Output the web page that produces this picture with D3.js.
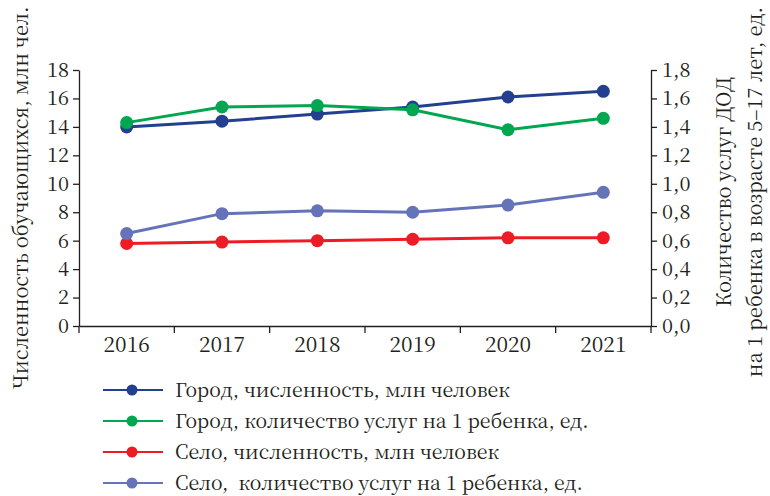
<!DOCTYPE html>
<html>
<head>
<meta charset="utf-8">
<script src="https://cdn.jsdelivr.net/npm/d3@7"></script>
<style>
  body { margin: 0; background: #fff; }
  svg text { font-family: "Noto Serif CJK SC", "DejaVu Serif Condensed", "DejaVu Serif", serif; fill: #231f20; }
</style>
</head>
<body>
<div id="chart"></div>
<script>
// data
const years = ["2016", "2017", "2018", "2019", "2020", "2021"];
const cityPeople = [14.0, 14.4, 14.9, 15.4, 16.1, 16.5];      // left axis
const cityServices = [1.43, 1.54, 1.55, 1.52, 1.38, 1.46];    // right axis
const villagePeople = [5.8, 5.9, 6.0, 6.1, 6.2, 6.2];         // left axis
const villageServices = [0.65, 0.79, 0.81, 0.80, 0.85, 0.94]; // right axis
const leftTicks = [0, 2, 4, 6, 8, 10, 12, 14, 16, 18];
const rightTicks = [0, 0.2, 0.4, 0.6, 0.8, 1.0, 1.2, 1.4, 1.6, 1.8];

const series = [
    { name: "Город, численность, млн человек", values: cityPeople, axis: "left", color: "#233f8f" },
    { name: "Город, количество услуг на 1 ребенка, ед.", values: cityServices, axis: "right", color: "#00a650" },
    { name: "Село, численность, млн человек", values: villagePeople, axis: "left", color: "#ed1c24" },
    { name: "Село,  количество услуг на 1 ребенка, ед.", values: villageServices, axis: "right", color: "#6573b8" }
];

const W = 770, H = 496;
const plot = { left: 79, right: 651, top: 70, bottom: 326 };

const svg = d3.select("#chart").append("svg")
    .attr("width", W).attr("height", H);

const x = d3.scaleBand().domain(years).range([plot.left, plot.right]);
const yL = d3.scaleLinear().domain([0, 18]).range([plot.bottom, plot.top]);
const yR = d3.scaleLinear().domain([0, 1.8]).range([plot.bottom, plot.top]);
const cx = d => x(d) + x.bandwidth() / 2;

const ruFmt = d3.formatLocale({ decimal: ",", thousands: " ", grouping: [3], currency: ["", ""] }).format(".1f");

// left axis
const gL = svg.append("g")
    .attr("transform", `translate(${plot.left},0)`)
    .call(d3.axisLeft(yL).tickValues(leftTicks).tickSize(6).tickSizeOuter(0).tickPadding(4));

// right axis
const gR = svg.append("g")
    .attr("transform", `translate(${plot.right},0)`)
    .call(d3.axisRight(yR).tickValues(rightTicks).tickFormat(ruFmt).tickSize(6).tickSizeOuter(0).tickPadding(5));

// bottom axis: labels in the middle of each band, ticks on the band edges
const gB = svg.append("g")
    .attr("transform", `translate(0,${plot.bottom})`)
    .call(d3.axisBottom(x).tickSize(0).tickPadding(11));

const edges = [plot.left, ...years.slice(1).map(d => x(d)), plot.right];
gB.selectAll(".edge")
    .data(edges)
    .enter().append("line")
    .attr("class", "edge")
    .attr("x1", d => d).attr("x2", d => d)
    .attr("y1", 0).attr("y2", 7)
    .attr("stroke", "#231f20").attr("stroke-width", 1.3);

[gL, gR, gB].forEach(g => {
    g.attr("font-family", null);
    g.selectAll("path.domain").attr("stroke", "#231f20").attr("stroke-width", 1.3);
    g.selectAll(".tick line").attr("stroke", "#231f20").attr("stroke-width", 1.3);
    g.selectAll(".tick text").style("font-size", "20px").attr("fill", "#231f20");
});
gB.selectAll(".tick text").style("font-size", "21px");

// axis titles
svg.append("text")
    .attr("transform", `translate(28,${(plot.top + plot.bottom) / 2}) rotate(-90)`)
    .attr("text-anchor", "middle")
    .style("font-size", "20px")
    .text("Численность обучающихся, млн чел.");

const rt = svg.append("text")
    .attr("transform", `translate(731,192) rotate(-90)`)
    .attr("text-anchor", "middle")
    .style("font-size", "20px");
rt.append("tspan").attr("x", 0).attr("dy", 0).text("Количество услуг ДОД");
rt.append("tspan").attr("x", 0).attr("dy", 31).text("на 1 ребенка в возрасте 5–17 лет, ед.");

// lines and markers
const lineFor = s => d3.line()
    .x((d, i) => cx(years[i]))
    .y(d => (s.axis === "left" ? yL : yR)(d));

series.forEach(s => {
    const yS = s.axis === "left" ? yL : yR;
    svg.append("path")
        .datum(s.values)
        .attr("fill", "none")
        .attr("stroke", s.color)
        .attr("stroke-width", 3)
        .attr("d", lineFor(s));
    svg.selectAll(null)
        .data(s.values)
        .enter().append("circle")
        .attr("cx", (d, i) => cx(years[i]))
        .attr("cy", d => yS(d))
        .attr("r", 6.5)
        .attr("fill", s.color);
});

// legend
const leg = svg.append("g").attr("transform", "translate(103,390)");
const row = leg.selectAll("g")
    .data(series)
    .enter().append("g")
    .attr("transform", (d, i) => `translate(0,${i * 31})`);
row.append("line")
    .attr("x1", 0).attr("x2", 60)
    .attr("stroke", d => d.color).attr("stroke-width", 2);
row.append("circle")
    .attr("cx", 29).attr("r", 5.5)
    .attr("fill", d => d.color);
row.append("text")
    .attr("x", 72).attr("dy", "0.35em")
    .style("font-size", "19.5px")
    .style("white-space", "pre")
    .text(d => d.name);
</script>
</body>
</html>
